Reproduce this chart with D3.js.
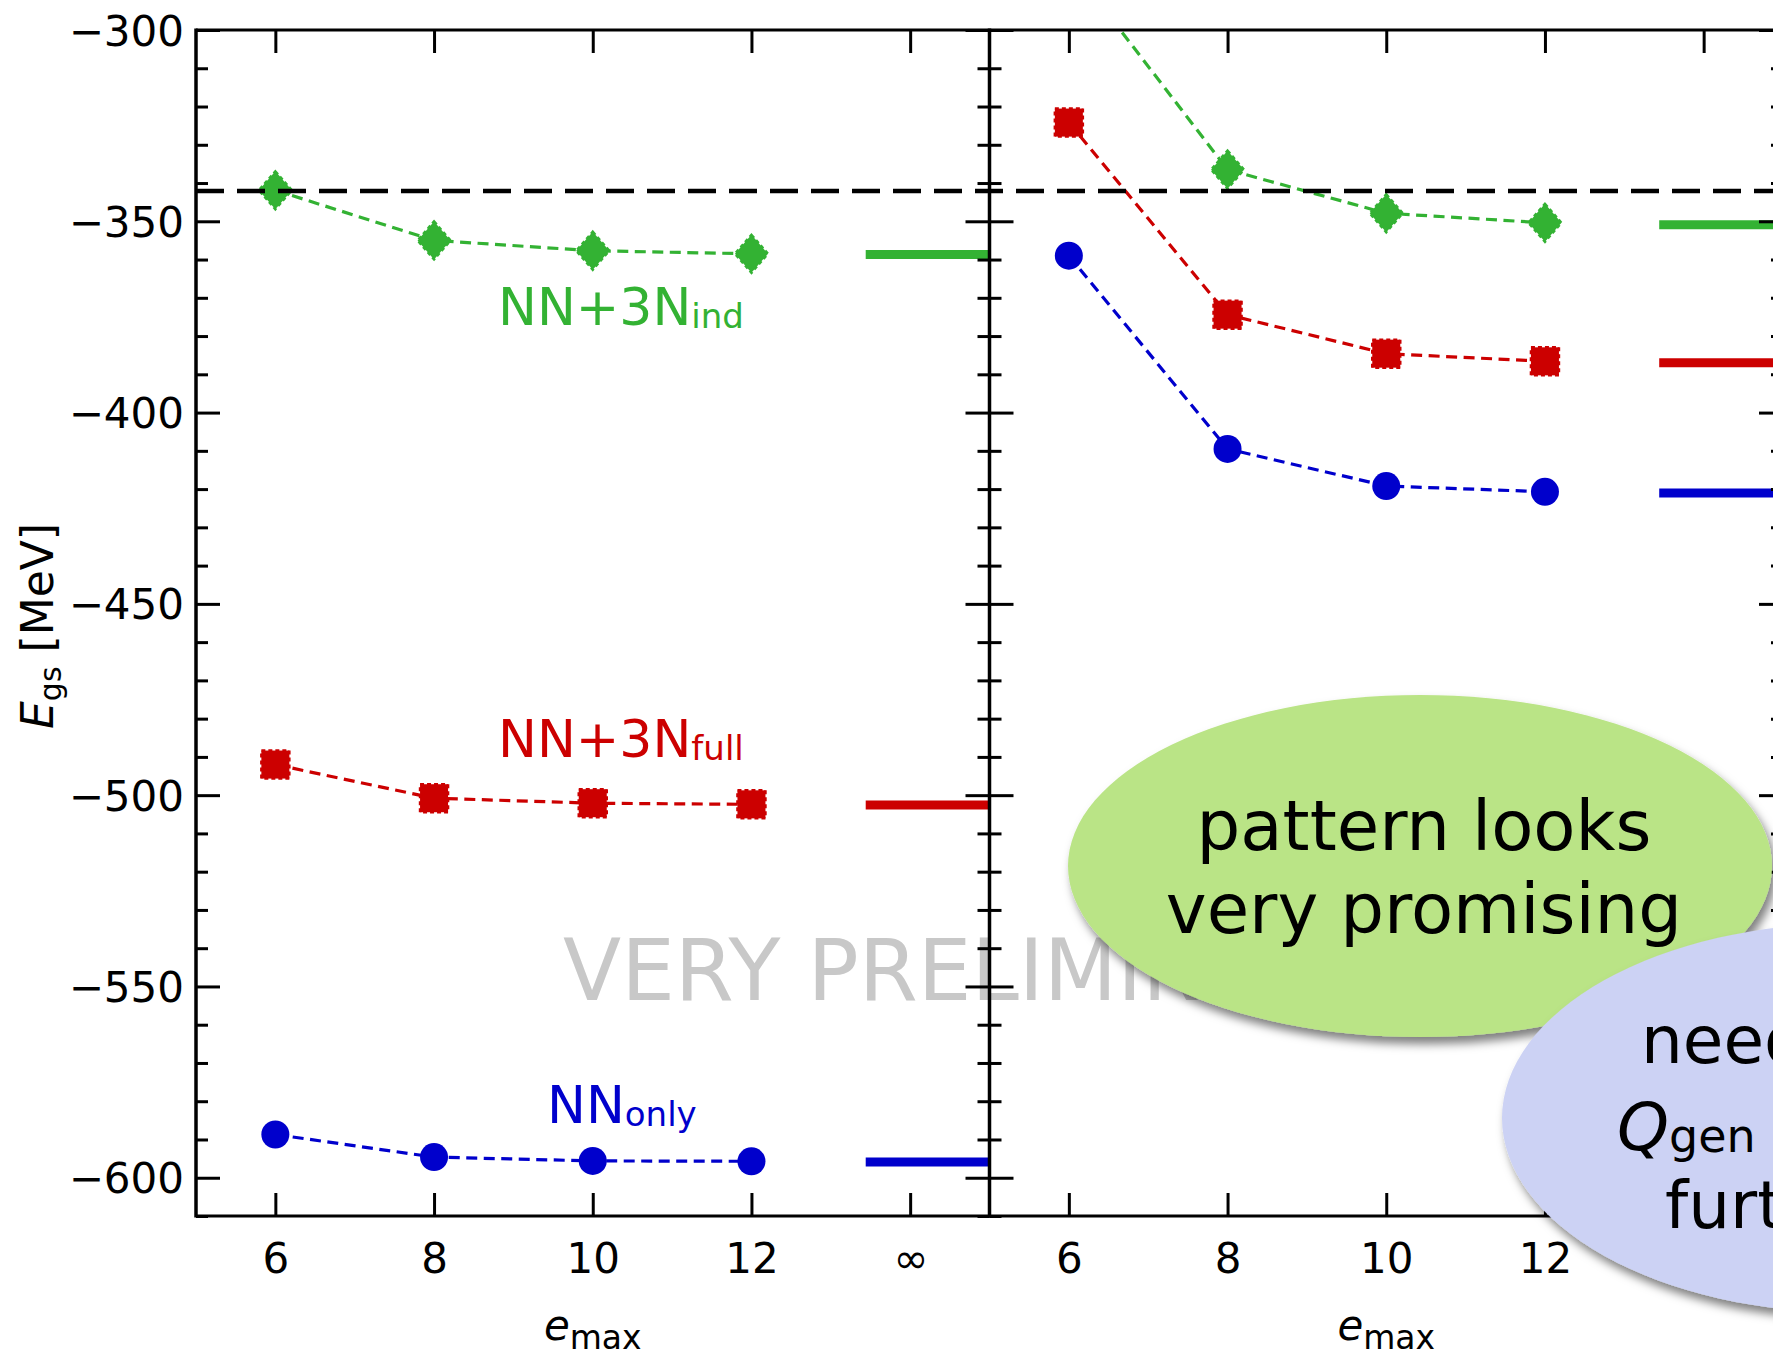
<!DOCTYPE html>
<html>
<head>
<meta charset="utf-8">
<script src="https://cdn.jsdelivr.net/npm/d3@7"></script>
<style>
  html, body { margin: 0; padding: 0; background: #fff; overflow: hidden; }
  svg { display: block; font-family: "DejaVu Sans", Verdana, sans-serif; }
</style>
</head>
<body>
<svg id="chart" width="1773" height="1353"></svg>
<script>
// ---- data -------------------------------------------------------------
const emax = [6, 8, 10, 12];
const xTickValues = [6, 8, 10, 12, 14];
const xTickLabels = ["6", "8", "10", "12", "\u221e"];
const yMajorTicks = [-600, -550, -500, -450, -400, -350, -300];
const yMinorTicks = [-610, -590, -580, -570, -560, -540, -530, -520, -510,
                     -490, -480, -470, -460, -440, -430, -420, -410,
                     -390, -380, -370, -360, -340, -330, -320, -310];

// left panel
const indA  = [-341.9, -355.0, -357.7, -358.5];
const fullA = [-492.0, -500.8, -502.1, -502.4];
const onlyA = [-588.7, -594.6, -595.6, -595.7];
const extrapA = [-358.7, -502.6, -595.9];   // ind, full, only at e_max -> inf

// right panel
const indB  = [-282.5, -336.5, -347.9, -350.4];
const fullB = [-324.2, -374.4, -384.6, -386.6];
const onlyB = [-359.0, -409.5, -419.2, -420.7];
const extrapB = [-350.9, -387.0, -421.0];

const experiment = -342.05;

// ---- setup ------------------------------------------------------------
const svg = d3.select("#chart");
const W = 1773, H = 1353;
const plotTop = 30, plotBottom = 1216;
const x0 = 196, xm = 989.5, x1 = 1783;

const y = d3.scaleLinear().domain([-610, -300]).range([plotBottom, plotTop]);
const xA = d3.scaleLinear().domain([5, 15]).range([x0, xm]);
const xB = d3.scaleLinear().domain([5, 15]).range([xm, x1]);

const GREEN = "#33b233", RED = "#cc0000", BLUE = "#0000cc";
const FONT = "'DejaVu Sans', Verdana, sans-serif";

svg.append("rect").attr("width", W).attr("height", H).attr("fill", "#fff");

const defs = svg.append("defs");
defs.append("clipPath").attr("id", "clipA").append("rect")
  .attr("x", x0).attr("y", plotTop).attr("width", xm - x0).attr("height", plotBottom - plotTop);
defs.append("clipPath").attr("id", "clipB").append("rect")
  .attr("x", xm).attr("y", plotTop).attr("width", x1 - xm).attr("height", plotBottom - plotTop);
defs.append("clipPath").attr("id", "clipAll").append("rect")
  .attr("x", x0).attr("y", plotTop).attr("width", x1 - x0).attr("height", plotBottom - plotTop);
const shadow = defs.append("filter").attr("id", "shadow")
  .attr("x", "-20%").attr("y", "-20%").attr("width", "140%").attr("height", "150%");
shadow.append("feDropShadow").attr("dx", 4).attr("dy", 7)
  .attr("stdDeviation", 5).attr("flood-color", "#000").attr("flood-opacity", 0.5);

// ---- watermark (behind everything else) -------------------------------
svg.append("text")
  .attr("x", 563).attr("y", 1000)
  .attr("font-size", 85).attr("fill", "#c8c8c8")
  .text("VERY PRELIMINARY");

// ---- series -----------------------------------------------------------
const symbols = {
  circle: (g, cx, cy, c) => g.append("circle").attr("cx", cx).attr("cy", cy).attr("r", 14).attr("fill", c),
  square: (g, cx, cy, c) => g.append("rect").attr("x", cx - 14).attr("y", cy - 14)
      .attr("width", 28).attr("height", 28).attr("fill", c)
      .attr("stroke", c).attr("stroke-width", 2.5).attr("stroke-dasharray", "4,3"),
  diamond: (g, cx, cy, c) => g.append("path")
      .attr("d", `M${cx},${cy - 19}L${cx + 16.5},${cy}L${cx},${cy + 19}L${cx - 16.5},${cy}Z`)
      .attr("fill", c).attr("stroke", c).attr("stroke-width", 2.5).attr("stroke-dasharray", "4,3")
};

function drawPanel(x, clipId, seriesList, extrap) {
  const g = svg.append("g").attr("clip-path", `url(#${clipId})`);
  seriesList.forEach(s => {
    const pts = emax.map((e, i) => [x(e), y(s.values[i])]);
    g.append("path")
      .attr("d", d3.line()(pts))
      .attr("fill", "none").attr("stroke", s.color)
      .attr("stroke-width", 3.2).attr("stroke-dasharray", "11,6.5");
    pts.forEach(p => symbols[s.symbol](g, p[0], p[1], s.color));
  });
  // extrapolated values, drawn as bars at the infinity position
  seriesList.forEach((s, i) => {
    g.append("line")
      .attr("x1", x(13.44)).attr("x2", x(15))
      .attr("y1", y(extrap[i])).attr("y2", y(extrap[i]))
      .attr("stroke", s.color).attr("stroke-width", 9);
  });
}

drawPanel(xA, "clipA", [
  { values: indA,  color: GREEN, symbol: "diamond" },
  { values: fullA, color: RED,   symbol: "square" },
  { values: onlyA, color: BLUE,  symbol: "circle" }
], extrapA);

drawPanel(xB, "clipB", [
  { values: indB,  color: GREEN, symbol: "diamond" },
  { values: fullB, color: RED,   symbol: "square" },
  { values: onlyB, color: BLUE,  symbol: "circle" }
], extrapB);

// experimental reference across both panels
svg.append("line").attr("clip-path", "url(#clipAll)")
  .attr("x1", x0).attr("x2", x1)
  .attr("y1", y(experiment)).attr("y2", y(experiment))
  .attr("stroke", "#000").attr("stroke-width", 4.5).attr("stroke-dasharray", "28,13");

// ---- axes -------------------------------------------------------------
function styleAxis(g, fontSize) {
  g.select(".domain").remove();
  g.attr("font-family", FONT).attr("font-size", fontSize);
  g.selectAll(".tick line").attr("stroke", "#000").attr("stroke-width", 3);
  g.selectAll(".tick text").attr("fill", "#000");
}

const fmt = d3.format("d");

// left axis with labels
svg.append("g").attr("transform", `translate(${x0},0)`)
  .call(d3.axisLeft(y).tickValues(yMajorTicks).tickSize(-24).tickPadding(12).tickFormat(fmt))
  .call(g => { styleAxis(g, 42); g.selectAll(".tick text").attr("dy", "0.36em"); });
svg.append("g").attr("transform", `translate(${x0},0)`)
  .call(d3.axisLeft(y).tickValues(yMinorTicks).tickSize(-12).tickFormat(""))
  .call(g => styleAxis(g, 42));

// shared middle axis: ticks on both sides
[d3.axisRight, d3.axisLeft].forEach(ax => {
  svg.append("g").attr("transform", `translate(${xm},0)`)
    .call(ax(y).tickValues(yMajorTicks).tickSize(-24).tickFormat(""))
    .call(g => styleAxis(g, 42));
  svg.append("g").attr("transform", `translate(${xm},0)`)
    .call(ax(y).tickValues(yMinorTicks).tickSize(-12).tickFormat(""))
    .call(g => styleAxis(g, 42));
});

// right axis of right panel
svg.append("g").attr("transform", `translate(${x1},0)`)
  .call(d3.axisRight(y).tickValues(yMajorTicks).tickSize(-24).tickFormat(""))
  .call(g => styleAxis(g, 42));
svg.append("g").attr("transform", `translate(${x1},0)`)
  .call(d3.axisRight(y).tickValues(yMinorTicks).tickSize(-12).tickFormat(""))
  .call(g => styleAxis(g, 42));

// x axes, bottom with labels and top without
[xA, xB].forEach(x => {
  svg.append("g").attr("transform", `translate(0,${plotBottom})`)
    .call(d3.axisBottom(x).tickValues(xTickValues).tickSize(-23).tickPadding(27)
      .tickFormat((d, i) => xTickLabels[i]))
    .call(g => styleAxis(g, 42));
  svg.append("g").attr("transform", `translate(0,${plotTop})`)
    .call(d3.axisTop(x).tickValues(xTickValues).tickSize(-23).tickFormat(""))
    .call(g => styleAxis(g, 42));
});

// frame
const frame = svg.append("g").attr("stroke", "#000").attr("stroke-width", 3.5).attr("fill", "none");
frame.append("line").attr("x1", x0).attr("x2", x1).attr("y1", plotTop).attr("y2", plotTop).attr("stroke-width", 3);
frame.append("line").attr("x1", x0).attr("x2", x1).attr("y1", plotBottom).attr("y2", plotBottom).attr("stroke-width", 3);
[x0, xm, x1].forEach(xx => frame.append("line")
  .attr("x1", xx).attr("x2", xx).attr("y1", plotTop - 1.5).attr("y2", plotBottom + 1.5));

// ---- axis titles --------------------------------------------------------
const yTitle = svg.append("text")
  .attr("transform", "translate(53,626) rotate(-90)")
  .attr("text-anchor", "middle").attr("font-size", 44).attr("fill", "#000");
yTitle.append("tspan").attr("font-style", "italic").text("E");
yTitle.append("tspan").attr("font-size", 30).attr("dy", 8).text("gs");
yTitle.append("tspan").attr("dy", -8).text("\u00a0[MeV]");

[xA, xB].forEach(x => {
  const t = svg.append("text")
    .attr("x", x(10)).attr("y", 1340)
    .attr("text-anchor", "middle").attr("font-size", 42).attr("fill", "#000");
  t.append("tspan").attr("font-style", "italic").text("e");
  t.append("tspan").attr("font-size", 33).attr("dy", 9).text("max");
});

// ---- series labels ------------------------------------------------------
function seriesLabel(xp, yp, main, sub, color) {
  const t = svg.append("text").attr("x", xp).attr("y", yp)
    .attr("font-size", 52).attr("fill", color);
  t.append("tspan").text(main);
  t.append("tspan").attr("font-size", 34).attr("dy", 3).text(sub);
}
seriesLabel(498, 325, "NN+3N", "ind", GREEN);
seriesLabel(498, 757, "NN+3N", "full", RED);
seriesLabel(547, 1123, "NN", "only", BLUE);

// ---- call-out bubbles ---------------------------------------------------
svg.append("ellipse")
  .attr("cx", 1420).attr("cy", 866).attr("rx", 352).attr("ry", 171)
  .attr("fill", "#bae486").attr("filter", "url(#shadow)");
const bubble1 = svg.append("text").attr("text-anchor", "middle")
  .attr("font-size", 69).attr("fill", "#000");
bubble1.append("tspan").attr("x", 1424).attr("y", 850).text("pattern looks");
bubble1.append("tspan").attr("x", 1424).attr("y", 933).text("very promising");

svg.append("ellipse")
  .attr("cx", 1852).attr("cy", 1118).attr("rx", 350).attr("ry", 195)
  .attr("fill", "#ccd2f4").attr("filter", "url(#shadow)");
const bubble2 = svg.append("g").attr("font-size", 66).attr("fill", "#000");
bubble2.append("text").attr("x", 1641).attr("y", 1063).text("need to fix");
const q = bubble2.append("text").attr("x", 1617).attr("y", 1150);
q.append("tspan").attr("font-style", "italic").text("Q");
q.append("tspan").attr("font-size", 46).attr("dy", 2).text("gen");
q.append("tspan").attr("dy", -2).text(" & 3N");
bubble2.append("text").attr("x", 1665).attr("y", 1228).text("further");
</script>
</body>
</html>
